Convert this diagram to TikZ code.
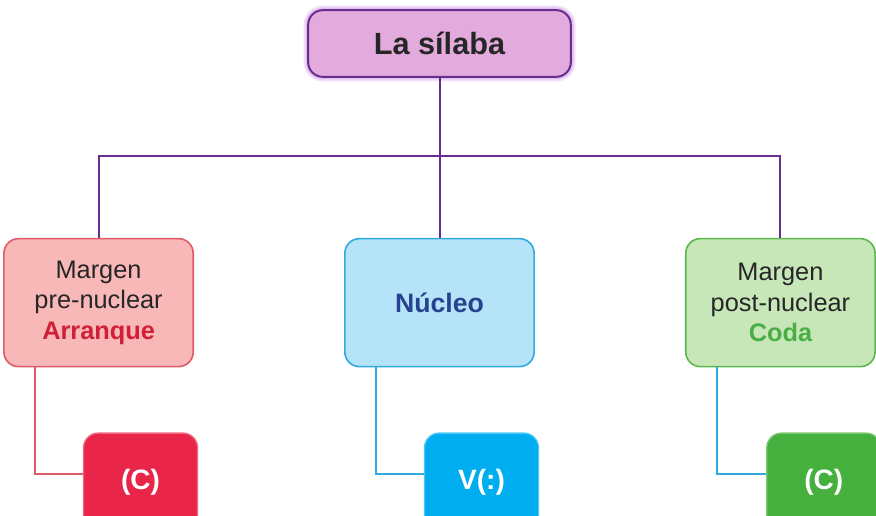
\documentclass[tikz,border=0pt]{standalone}
\usepackage{fontspec}
\setmainfont{Liberation Sans}
\usetikzlibrary{positioning}
\definecolor{silabafill}{HTML}{E3ABDD}
\definecolor{silabaline}{HTML}{6A2C91}
\definecolor{silabaglow}{HTML}{C98AE0}
\definecolor{onsetfill}{HTML}{F8B8B8}
\definecolor{onsetline}{HTML}{E05A6A}
\definecolor{onsettext}{HTML}{D01F36}
\definecolor{onsetdark}{HTML}{E9264A}
\definecolor{nucfill}{HTML}{B5E4F8}
\definecolor{nucline}{HTML}{30AADF}
\definecolor{nuctext}{HTML}{27428F}
\definecolor{nucdark}{HTML}{00AEEF}
\definecolor{codafill}{HTML}{C7E7B9}
\definecolor{codaline}{HTML}{5CB84E}
\definecolor{codatext}{HTML}{4AAE45}
\definecolor{codadark}{HTML}{45B03D}

\begin{document}
\begin{tikzpicture}[
    x=0.75pt, y=-0.75pt,
    node distance=120pt and 112.5pt,
    title/.style={rectangle, rounded corners=11pt, draw=silabaline, fill=silabafill, line width=1.5pt, minimum width=197pt, minimum height=50pt, font=\fontsize{23}{27}\selectfont\bfseries, text=black!85,
        preaction={draw=silabaglow, line width=7pt, opacity=0.25},
        preaction={draw=silabaglow, line width=4pt, opacity=0.4}},
    part/.style={rectangle, rounded corners=11pt, line width=1.2pt, minimum width=142pt, minimum height=96pt, align=center, font=\fontsize{19}{23}\selectfont, text=black!85},
    unit/.style={rectangle, rounded corners=11pt, line width=1pt, minimum width=85.5pt, minimum height=73.5pt, font=\fontsize{21}{25}\selectfont\bfseries, text=white},
    bus/.style={draw=silabaline, line width=1.5pt},
    link/.style={line width=1.5pt}
]
\clip (0,0) rectangle (876,516);

\node[title] (silaba) at (439.5,43.5) {La sílaba};

\node[part, draw=nucline, fill=nucfill, below=of silaba] (nucleo) {\textbf{\textcolor{nuctext}{\fontsize{20}{24}\selectfont Núcleo}}};
\node[part, draw=onsetline, fill=onsetfill, left=of nucleo] (onset) {Margen\\pre-nuclear\\\textbf{\textcolor{onsettext}{Arranque}}};
\node[part, draw=codaline, fill=codafill, right=of nucleo] (coda) {Margen\\post-nuclear\\\textbf{\textcolor{codatext}{Coda}}};

% tree lines
\coordinate[below=58.5pt of silaba.south] (bus);
\draw[bus] (silaba.south) -- (bus);
\draw[bus] (onset.north) |- (bus) -| (coda.north);
\draw[bus] (bus) -- (nucleo.north);

\node[unit, draw=onsetdark!70, fill=onsetdark, below=48.75pt of onset, xshift=31.5pt] (onsetC) {(C)};
\node[unit, draw=nucdark!70, fill=nucdark, below=48.75pt of nucleo, xshift=31.5pt] (nucleoV) {V(:)};
\node[unit, draw=codadark!70, fill=codadark, below=48.75pt of coda, xshift=32.5pt] (codaC) {(C)};

\draw[link, onsetline] ([xshift=24pt]onset.south west) |- ([yshift=6pt]onsetC.west);
\draw[link, nucline] ([xshift=24pt]nucleo.south west) |- ([yshift=6pt]nucleoV.west);
\draw[link, nucline] ([xshift=24pt]coda.south west) |- ([yshift=6pt]codaC.west);

\end{tikzpicture}
\end{document}
